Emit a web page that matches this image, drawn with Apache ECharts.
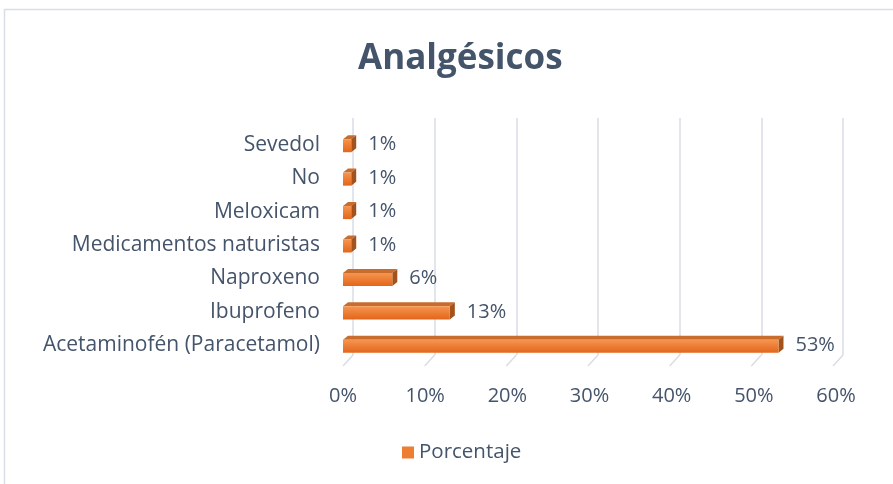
<!DOCTYPE html>
<html>
<head>
<meta charset="utf-8">
<script src="https://cdn.jsdelivr.net/npm/echarts@6/dist/echarts.min.js"></script>
<style>
html, body { margin: 0; padding: 0; background: #fff; }
#chart { width: 893px; height: 484px; }
</style>
</head>
<body>
<div id="chart"></div>
<script>
// data
var categories = ["Acetaminofén (Paracetamol)", "Ibuprofeno", "Naproxeno", "Medicamentos naturistas", "Meloxicam", "No", "Sevedol"];
var porcentaje = [53, 13, 6, 1, 1, 1, 1];
var xTicks = [0, 10, 20, 30, 40, 50, 60];

var textColor = "#44546a";
var fontName = "Open Sans";
var gridColor = "#d9dde4";

var barData = porcentaje.map(function (v, i) { return [v, i]; });

// 3d looking bar: front face, top face, right face + label
function renderBar(params, api) {
  var start = api.coord([0, api.value(1)]);
  var end = api.coord([api.value(0), api.value(1)]);
  var h = api.size([0, 1])[1] * 0.39;
  var x0 = start[0], x1 = end[0];
  var yt = start[1] - h / 2 + 1, yb = start[1] + h / 2 + 1;
  var dx = 5, dy = -4;
  return {
    type: "group",
    children: [
      {
        type: "polygon",
        shape: { points: [[x0, yt], [x1, yt], [x1 + dx, yt + dy], [x0 + dx, yt + dy]] },
        style: { fill: "#c86d2e" }
      },
      {
        type: "polygon",
        shape: { points: [[x1, yt], [x1 + dx, yt + dy], [x1 + dx, yb + dy], [x1, yb]] },
        style: { fill: "#a4521b" }
      },
      {
        type: "rect",
        shape: { x: x0, y: yt, width: x1 - x0, height: h },
        style: {
          fill: new echarts.graphic.LinearGradient(0, 0, 0, 1, [
            { offset: 0, color: "#f7954f" },
            { offset: 1, color: "#e2661b" }
          ])
        }
      },
      {
        type: "text",
        x: x1 + dx + 12,
        y: start[1],
        style: {
          text: api.value(0) + "%",
          fill: textColor,
          fontSize: 20,
          fontFamily: fontName,
          verticalAlign: "middle"
        }
      }
    ]
  };
}

// small slanted foot under every back wall gridline
function renderFoot(params, api) {
  var p = api.coord([api.value(0), 0]);
  var bottom = params.coordSys.y + params.coordSys.height;
  return {
    type: "line",
    shape: { x1: p[0], y1: bottom, x2: p[0] - 10, y2: bottom + 11 },
    style: { stroke: gridColor, lineWidth: 1.5 }
  };
}

var chart = echarts.init(document.getElementById("chart"));
chart.setOption({
  backgroundColor: "#fff",
  animation: false,
  title: {
    text: "Analgésicos",
    left: 353,
    top: 37,
    textStyle: { fontFamily: fontName, fontSize: 35, fontWeight: "bold", color: textColor }
  },
  legend: {
    data: ["Porcentaje"],
    left: 402,
    top: 442,
    padding: 0,
    icon: "rect",
    itemWidth: 12,
    itemHeight: 12,
    itemGap: 6,
    textStyle: { fontFamily: fontName, fontSize: 20.5, color: textColor }
  },
  graphic: [
    {
      type: "rect",
      shape: { x: 4.5, y: 9.5, width: 1000, height: 600 },
      style: { fill: null, stroke: gridColor, lineWidth: 1.5 },
      silent: true
    }
  ],
  grid: [
    { left: 343, right: 57, top: 128, bottom: 122 },
    { left: 353, right: 50, top: 118, bottom: 129 }
  ],
  xAxis: [
    {
      gridIndex: 0,
      type: "value",
      min: 0,
      max: 60,
      interval: 10,
      axisLine: { show: false },
      axisTick: { show: false },
      splitLine: { show: false },
      axisLabel: {
        margin: 24,
        formatter: "{value}%",
        fontFamily: fontName,
        fontSize: 20,
        color: textColor
      }
    },
    {
      gridIndex: 1,
      type: "value",
      min: 0,
      max: 60,
      interval: 10,
      axisLine: { show: false },
      axisTick: { show: false },
      axisLabel: { show: false },
      splitLine: { show: true, lineStyle: { color: gridColor, width: 1.5 } }
    }
  ],
  yAxis: [
    {
      gridIndex: 0,
      type: "category",
      data: categories,
      axisLine: { show: false },
      axisTick: { show: false },
      axisLabel: {
        margin: 23,
        fontFamily: fontName,
        fontSize: 21,
        color: textColor
      }
    },
    {
      gridIndex: 1,
      type: "value",
      min: 0,
      max: 1,
      show: false
    }
  ],
  series: [
    {
      type: "custom",
      name: "feet",
      xAxisIndex: 1,
      yAxisIndex: 1,
      data: xTicks,
      encode: { x: 0 },
      renderItem: renderFoot,
      silent: true,
      z: 1
    },
    {
      type: "custom",
      name: "Porcentaje",
      xAxisIndex: 0,
      yAxisIndex: 0,
      data: barData,
      encode: { x: 0, y: 1 },
      itemStyle: { color: "#ed7d31" },
      renderItem: renderBar,
      z: 5
    }
  ]
});
</script>
</body>
</html>
